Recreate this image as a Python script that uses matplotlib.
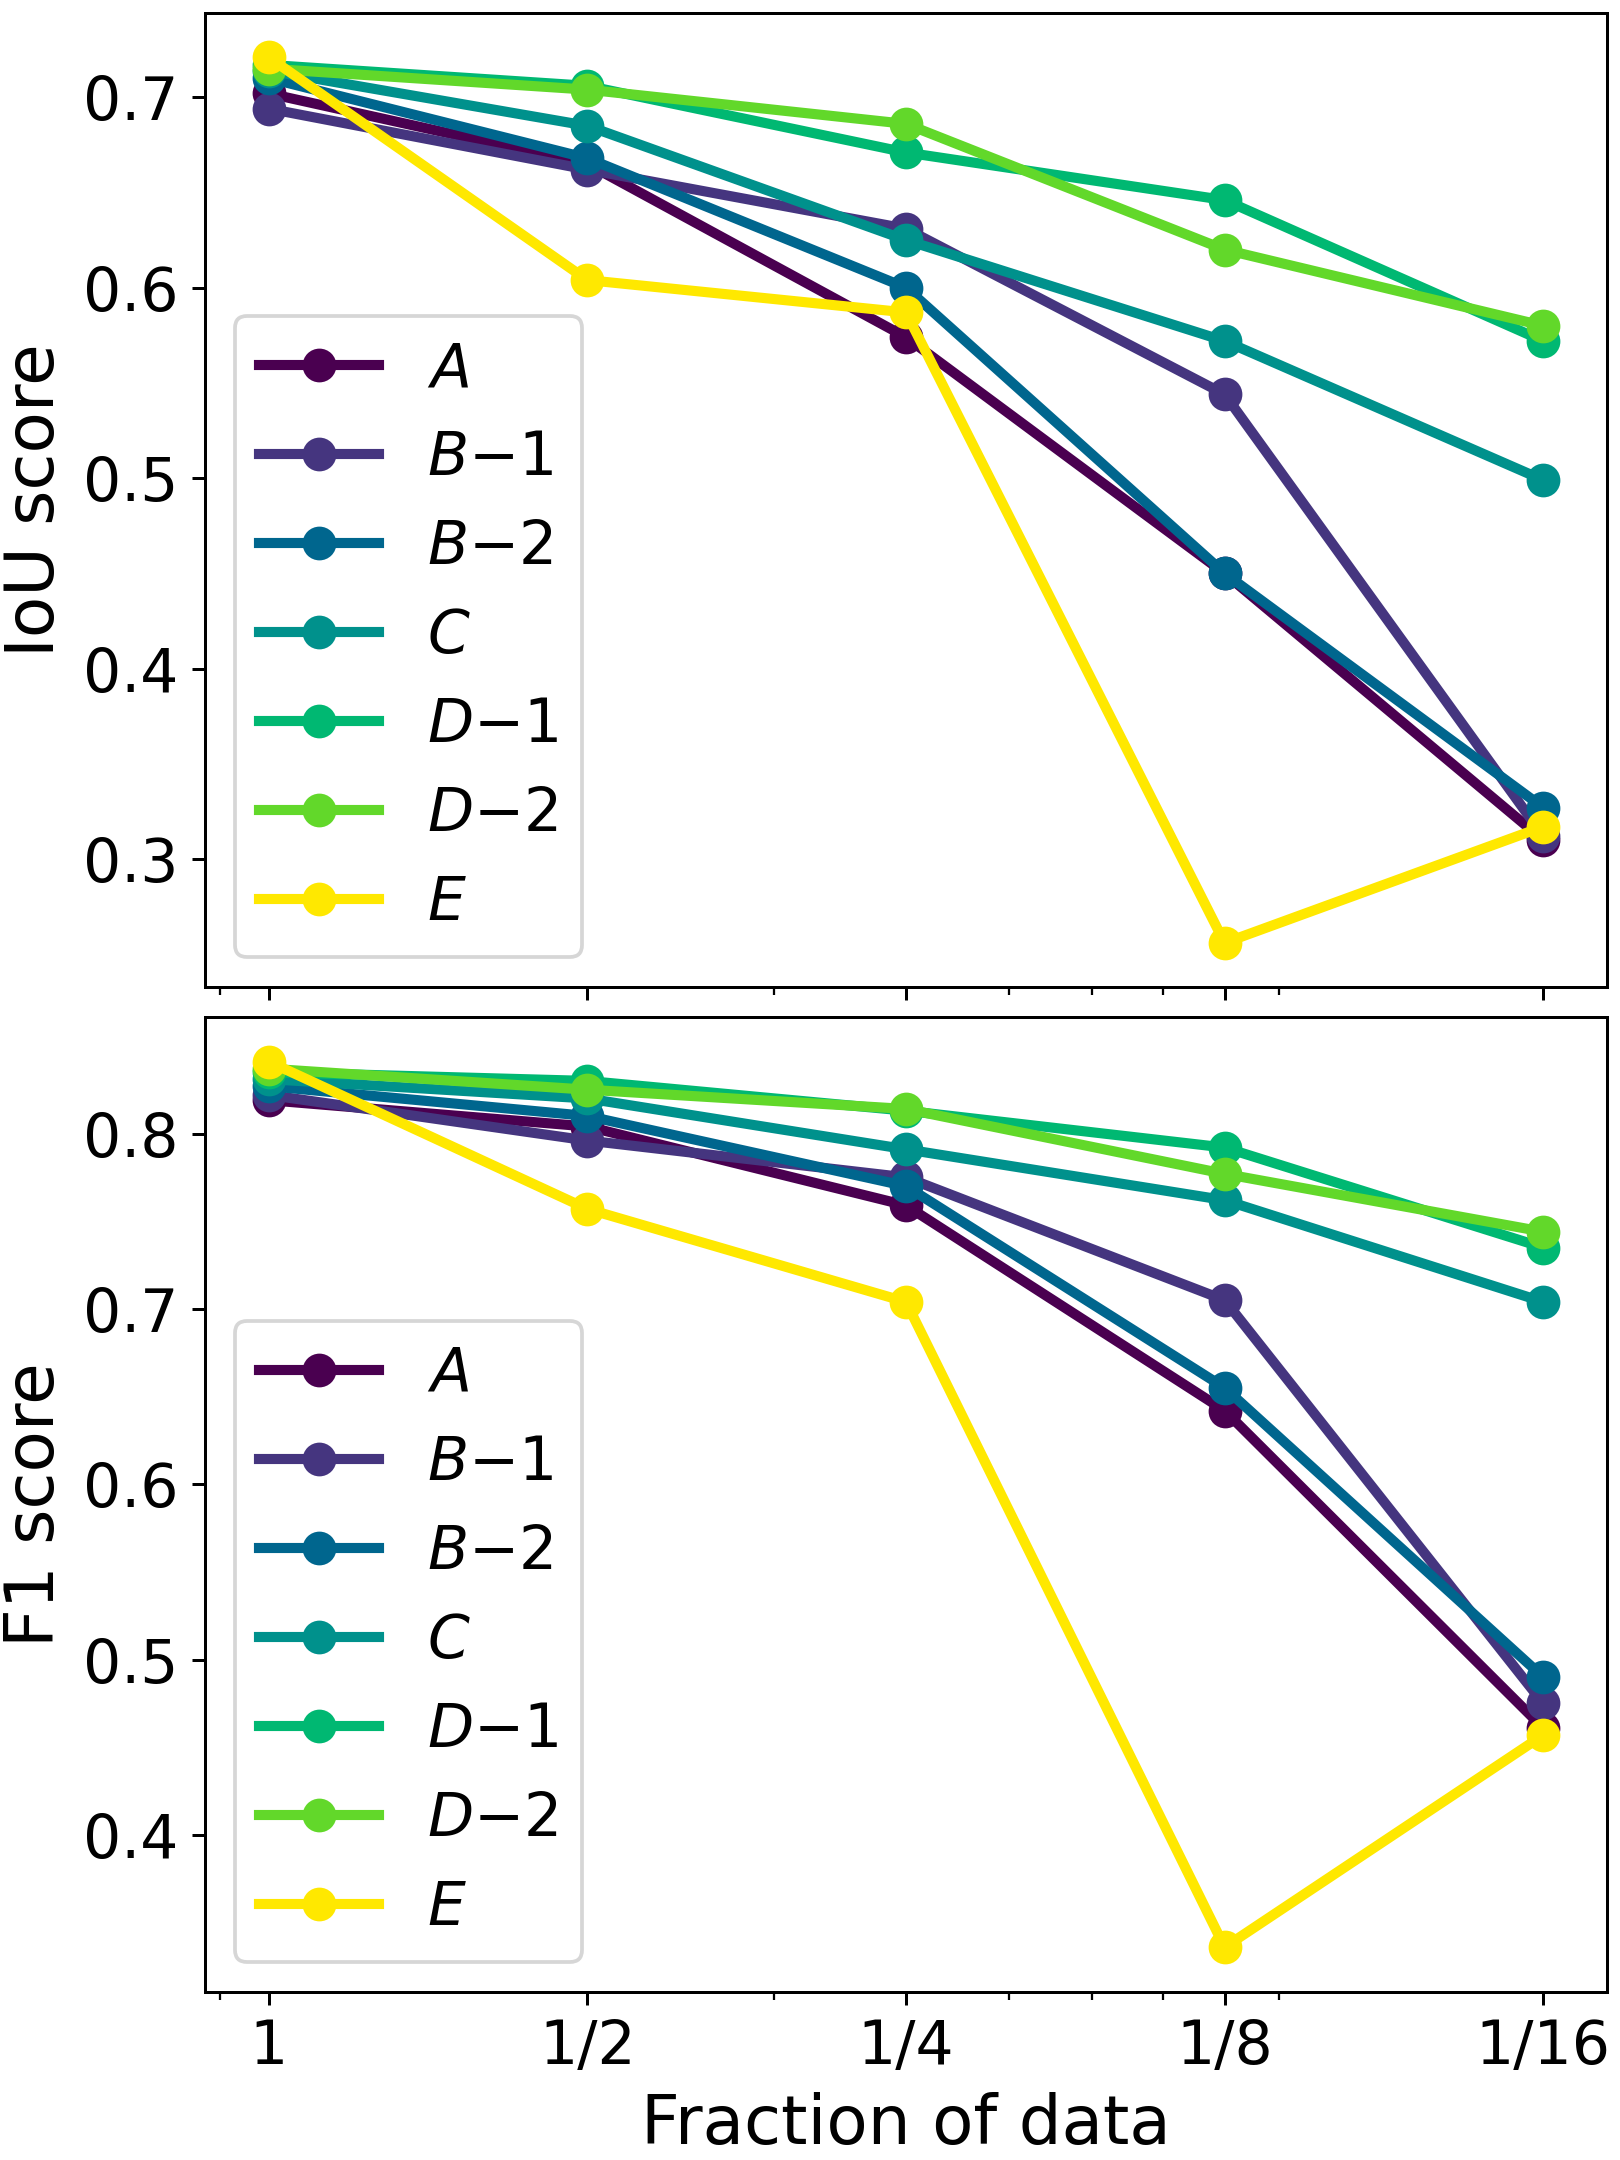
import numpy as np
import matplotlib
matplotlib.use('Agg')
import matplotlib.pyplot as plt

# fractions of data (plotted as 1/x on a log axis)
denoms = [1, 2, 4, 8, 16]
xlabels = ['1', '1/2', '1/4', '1/8', '1/16']

names = ['$A$', '$B{-}1$', '$B{-}2$', '$C$', '$D{-}1$', '$D{-}2$', '$E$']
colors = ['#4a0050', '#45357f', '#00668e', '#00918c', '#00b872', '#62d82a', '#ffe800']

iou_A = [0.702, 0.665, 0.574, 0.450, 0.310]
iou_B1 = [0.694, 0.662, 0.631, 0.544, 0.312]
iou_B2 = [0.710, 0.668, 0.600, 0.450, 0.327]
iou_C = [0.714, 0.685, 0.625, 0.572, 0.499]
iou_D1 = [0.717, 0.706, 0.671, 0.646, 0.572]
iou_D2 = [0.715, 0.704, 0.686, 0.620, 0.580]
iou_E = [0.721, 0.604, 0.587, 0.256, 0.317]

f1_A = [0.819, 0.804, 0.759, 0.642, 0.461]
f1_B1 = [0.822, 0.796, 0.775, 0.705, 0.475]
f1_B2 = [0.827, 0.810, 0.770, 0.655, 0.490]
f1_C = [0.831, 0.820, 0.791, 0.762, 0.704]
f1_D1 = [0.835, 0.830, 0.813, 0.792, 0.735]
f1_D2 = [0.837, 0.825, 0.814, 0.777, 0.744]
f1_E = [0.841, 0.757, 0.704, 0.336, 0.457]

iou = [iou_A, iou_B1, iou_B2, iou_C, iou_D1, iou_D2, iou_E]
f1 = [f1_A, f1_B1, f1_B2, f1_C, f1_D1, f1_D2, f1_E]

plt.rcParams['font.size'] = 16

fig, (ax1, ax2) = plt.subplots(2, 1, figsize=(6, 8), dpi=270, sharex=True)

for ax, data, ylab in [(ax1, iou, 'IoU score'), (ax2, f1, 'F1 score')]:
    for name, c, vals in zip(names, colors, data):
        ax.plot(denoms, vals, '-o', color=c, label=name, linewidth=2.7, markersize=8)
    ax.set_xscale('log')
    ax.set_ylabel(ylab, fontsize=18)
    ax.legend(loc='lower left')

ax2.set_xticks(denoms)
ax2.set_xticklabels(xlabels)
ax2.set_xlabel('Fraction of data', fontsize=18)

plt.subplots_adjust(left=0.1265, right=0.992, top=0.994, bottom=0.078, hspace=0.031)
plt.savefig('out.png')
